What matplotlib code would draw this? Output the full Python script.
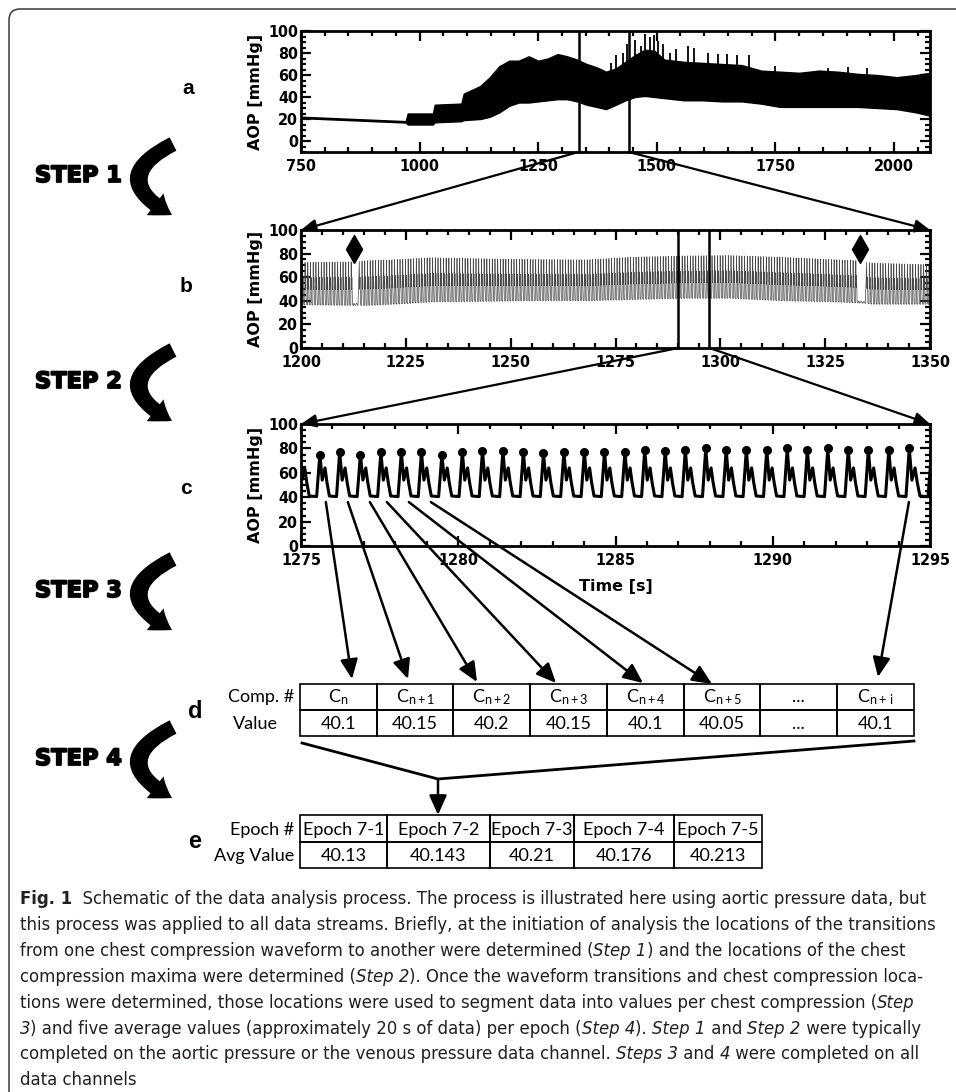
import numpy as np
import matplotlib
matplotlib.use("Agg")
import matplotlib.pyplot as plt
from matplotlib.patches import FancyArrowPatch, FancyBboxPatch, Rectangle, ConnectionPatch
from matplotlib.ticker import MultipleLocator
from matplotlib.font_manager import FontProperties, findfont
import matplotlib.patheffects as pe

plt.rcParams['mathtext.fontset'] = 'custom'
plt.rcParams['mathtext.rm'] = 'Lato'
plt.rcParams['mathtext.it'] = 'Lato:italic'
plt.rcParams['mathtext.bf'] = 'Lato:bold'

# ---------------------------------------------------------------- data
# panel a : whole record (envelope of the dense compression signal)
A_PRE_T = [750, 970]
A_PRE_V = [21, 17]
A_ENV_T = [970, 975, 1028, 1032, 1088, 1093, 1128, 1148, 1168, 1189, 1209, 1230,
           1250, 1270, 1291, 1311, 1332, 1352, 1373, 1393, 1414, 1434, 1454, 1475,
           1495, 1516, 1557, 1597, 1638, 1679, 1720, 1760, 1801, 1842, 1883, 1924,
           1965, 2006, 2047, 2076]
A_ENV_UP = [17, 25, 25, 33, 34, 43, 50, 58, 68, 73, 73, 77, 73, 75, 79, 77, 74, 70,
            67, 63, 66, 72, 78, 83, 82, 74, 72, 71, 70, 69, 64, 63, 62, 64, 63, 61,
            60, 58, 60, 62]
A_ENV_LO = [17, 15, 15, 17, 18, 19, 20, 22, 26, 32, 35, 35, 36, 37, 38, 38, 36, 33,
            31, 29, 33, 37, 40, 41, 40, 39, 37, 37, 36, 36, 34, 31, 31, 31, 31, 31,
            30, 29, 26, 23]
A_SPIKE_T = [1403, 1415, 1428, 1438, 1454, 1466, 1475, 1485, 1495, 1503, 1513, 1528,
             1540, 1566, 1578, 1607, 1630, 1648, 1669, 1694, 1750, 1862, 1903, 1944]
A_SPIKE_V = [71, 78, 80, 88, 92, 86, 97, 95, 96, 91, 88, 80, 84, 86, 85, 80, 79, 79,
             78, 78, 68, 66, 67, 66]
A_XTICKS = [750, 1000, 1250, 1500, 1750, 2000]
A_XLIM = [750, 2076]
A_WINDOW = [1335, 1441]

# panel b : 150 s window
B_ENV_T = [1200, 1212, 1216, 1221.6, 1231, 1245, 1256, 1268, 1279, 1291, 1302,
           1314, 1326, 1333, 1336, 1349, 1350]
B_ENV_UP = [72.5, 73, 74, 74.7, 76.5, 75.5, 75, 74.7, 77, 78, 78.4, 77, 75, 74, 72,
            70.7, 70.5]
B_ENV_LO = [36.5, 36, 36, 37, 39, 39.5, 40, 40, 41, 42, 42, 40, 39, 38, 37, 37, 37]
B_MARK_T = [1212.6, 1333.4]
B_MARK_V = [84, 84]
B_PERIOD = 0.647
B_XTICKS = [1200, 1225, 1250, 1275, 1300, 1325, 1350]
B_WINDOW = [1290, 1297.4]

# panel c : 20 s window, compression maxima
C_PEAK_T = [1274.95, 1275.60, 1276.23, 1276.89, 1277.54, 1278.19, 1278.83, 1279.48,
            1280.13, 1280.77, 1281.42, 1282.07, 1282.71, 1283.36, 1284.01, 1284.65,
            1285.30, 1285.93, 1286.58, 1287.22, 1287.87, 1288.52, 1289.16, 1289.81,
            1290.46, 1291.10, 1291.75, 1292.40, 1293.04, 1293.69, 1294.34, 1295.05]
C_PEAK_V = [76, 75, 77, 75, 77, 77, 77, 75, 77, 78, 78, 77, 76, 77, 77, 77, 77, 79,
            78, 79, 80, 79, 79, 79, 80, 79, 80, 79, 79, 79, 80, 78]
C_SHAPE_PHASE = [0.12, 0.26, 0.36, 0.48, 0.84]
C_SHAPE_V = [54, 64, 52, 41, 40.5]
C_XTICKS = [1275, 1280, 1285, 1290, 1295]
C_ARROW_T = [1275.79, 1276.49, 1277.19, 1277.73, 1278.43, 1279.13, 1294.33]
C_ARROW_V = 36
Y_TICKS = [0, 20, 40, 60, 80, 100]

# tables
D_HEAD = [r'$\mathrm{C}_{\mathrm{n}}$', r'$\mathrm{C}_{\mathrm{n+1}}$', r'$\mathrm{C}_{\mathrm{n+2}}$',
          r'$\mathrm{C}_{\mathrm{n+3}}$', r'$\mathrm{C}_{\mathrm{n+4}}$', r'$\mathrm{C}_{\mathrm{n+5}}$',
          '...', r'$\mathrm{C}_{\mathrm{n+\,i}}$']
D_VALS = ['40.1', '40.15', '40.2', '40.15', '40.1', '40.05', '...', '40.1']
E_HEAD = ['Epoch 7-1', 'Epoch 7-2', 'Epoch 7-3', 'Epoch 7-4', 'Epoch 7-5']
E_VALS = ['40.13', '40.143', '40.21', '40.176', '40.213']

STEPS = ['STEP 1', 'STEP 2', 'STEP 3', 'STEP 4']

CAPTION = [
    [("Fig. 1", 'normal', 'bold'), ("  Schematic of the data analysis process. The process is illustrated here using aortic pressure data, but", 'normal', 'normal')],
    [("this process was applied to all data streams. Briefly, at the initiation of analysis the locations of the transitions", 'normal', 'normal')],
    [("from one chest compression waveform to another were determined (", 'normal', 'normal'), ("Step 1", 'italic', 'normal'), (") and the locations of the chest", 'normal', 'normal')],
    [("compression maxima were determined (", 'normal', 'normal'), ("Step 2", 'italic', 'normal'), ("). Once the waveform transitions and chest compression loca-", 'normal', 'normal')],
    [("tions were determined, those locations were used to segment data into values per chest compression (", 'normal', 'normal'), ("Step", 'italic', 'normal')],
    [("3", 'italic', 'normal'), (") and five average values (approximately 20 s of data) per epoch (", 'normal', 'normal'), ("Step 4", 'italic', 'normal'), ("). ", 'normal', 'normal'), ("Step 1", 'italic', 'normal'), (" and ", 'normal', 'normal'), ("Step 2", 'italic', 'normal'), (" were typically", 'normal', 'normal')],
    [("completed on the aortic pressure or the venous pressure data channel. ", 'normal', 'normal'), ("Steps 3", 'italic', 'normal'), (" and ", 'normal', 'normal'), ("4", 'italic', 'normal'), (" were completed on all", 'normal', 'normal')],
    [("data channels", 'normal', 'normal')],
]

# ---------------------------------------------------------------- fonts
_cond = findfont(FontProperties(family='DejaVu Sans', stretch='condensed', weight='bold'))
HAS_COND = 'ondensed' in _cond
if HAS_COND:
    TICK_KW = dict(family='DejaVu Sans', stretch='condensed', weight='bold', size=11.5)
    CAP_FAM, CAP_STRETCH = ['DejaVu Sans'], 'condensed'
else:
    TICK_KW = dict(family='Liberation Sans', weight='bold', size=11.5)
    CAP_FAM, CAP_STRETCH = ['Liberation Sans'], 'normal'
TICK_FP = FontProperties(**TICK_KW)
LAB_FP = FontProperties(family='DejaVu Sans', weight='bold', size=11.5)

# ---------------------------------------------------------------- figure
W, H = 956, 1092
fig = plt.figure(figsize=(W / 100, H / 100), dpi=100)


def fbox(l, t, r, b):
    return [l / W, 1 - b / H, (r - l) / W, (b - t) / H]


ax_a = fig.add_axes(fbox(301, 31, 930, 152))
ax_b = fig.add_axes(fbox(301, 230, 930, 348))
ax_c = fig.add_axes(fbox(301, 424, 930, 546))
ov = fig.add_axes([0, 0, 1, 1], zorder=5)
ov.set_xlim(0, W)
ov.set_ylim(H, 0)
ov.axis('off')
ov.patch.set_alpha(0)


def style(ax, xticks, xminor, xlim, ylim):
    for s in ax.spines.values():
        s.set_linewidth(2)
    ax.set_xlim(*xlim)
    ax.set_ylim(*ylim)
    ax.set_xticks(xticks)
    ax.set_xticklabels([str(t) for t in xticks], fontproperties=TICK_FP)
    ax.set_yticks(Y_TICKS)
    ax.set_yticklabels([str(t) for t in Y_TICKS], fontproperties=TICK_FP)
    ax.xaxis.set_minor_locator(MultipleLocator(xminor))
    ax.yaxis.set_minor_locator(MultipleLocator(5))
    ax.tick_params(which='both', direction='in', top=True, right=True, width=1.6)
    ax.tick_params(axis='y', pad=2)
    ax.tick_params(axis='x', pad=5)
    ax.tick_params(which='major', length=7)
    ax.tick_params(which='minor', length=3.5)
    ax.set_ylabel('AOP [mmHg]', fontproperties=LAB_FP, labelpad=4)


# panel a
ax_a.plot(A_PRE_T, A_PRE_V, color='k', lw=2)
ax_a.fill_between(A_ENV_T, A_ENV_LO, A_ENV_UP, color='k', lw=1)
ax_a.vlines(A_SPIKE_T, 55, A_SPIKE_V, color='k', lw=1.3)
for x in A_WINDOW:
    ax_a.axvline(x, color='k', lw=1.8)
style(ax_a, A_XTICKS, 50, A_XLIM, (-10, 100))

# panel b
frac = [(v - C_SHAPE_V[-1]) / (77 - C_SHAPE_V[-1]) for v in C_SHAPE_V]
bt, bv = [], []
for p in np.arange(B_ENV_T[0] - B_PERIOD / 2, B_ENV_T[-1] + B_PERIOD, B_PERIOD):
    U = np.interp(p, B_ENV_T, B_ENV_UP)
    L = np.interp(p, B_ENV_T, B_ENV_LO)
    if any(-0.6 < p - g < 0.9 for g in B_MARK_T):
        bt += [p, p + 0.5 * B_PERIOD]
        bv += [L + 2, L]
        continue
    bt.append(p)
    bv.append(U)
    for ph, f in zip(C_SHAPE_PHASE, frac):
        bt.append(p + ph * B_PERIOD)
        bv.append(L + f * (U - L))
ax_b.plot(bt, bv, color='#4a4a4a', lw=0.5)
ax_b.plot(B_MARK_T, B_MARK_V, 'kd', ms=14)
for x in B_WINDOW:
    ax_b.axvline(x, color='k', lw=1.8)
style(ax_b, B_XTICKS, 5, (1200, 1350), (0, 100))

# panel c
ct, cv = [], []
for i in range(len(C_PEAK_T) - 1):
    t0, t1 = C_PEAK_T[i], C_PEAK_T[i + 1]
    ct.append(t0)
    cv.append(C_PEAK_V[i])
    for ph, v in zip(C_SHAPE_PHASE, C_SHAPE_V):
        ct.append(t0 + ph * (t1 - t0))
        cv.append(v)
ct.append(C_PEAK_T[-1])
cv.append(C_PEAK_V[-1])
ax_c.plot(ct, cv, color='k', lw=2.2, solid_joinstyle='round')
dots = [(t, v) for t, v in zip(C_PEAK_T, C_PEAK_V) if 1275 < t < 1295]
ax_c.plot([d[0] for d in dots], [d[1] for d in dots], 'ko', ms=5.5)
style(ax_c, C_XTICKS, 1, (1275, 1295), (0, 100))
ax_c.set_xlabel('Time [s]', fontproperties=LAB_FP, labelpad=8)

# ---------------------------------------------------------------- connectors


def conn(xyA, axA, xyB, axB, ms=13, lw=1.6, head='-|>,head_length=0.7,head_width=0.3'):
    cp = ConnectionPatch(xyA=xyA, coordsA=axA.transData, xyB=xyB, coordsB=axB.transData,
                         arrowstyle=head, mutation_scale=ms, lw=lw, color='k',
                         shrinkA=0, shrinkB=0, zorder=6)
    fig.add_artist(cp)


conn((A_WINDOW[0], -10), ax_a, (1200, 100), ax_b)
conn((A_WINDOW[1], -10), ax_a, (1350, 100), ax_b)
conn((B_WINDOW[0], 0), ax_b, (1275, 100), ax_c)
conn((B_WINDOW[1], 0), ax_b, (1295, 100), ax_c)

D_L, D_R, D_T, D_M, D_B = 300, 914, 684, 710, 736
E_COLS = [300, 387, 490, 574, 674, 762]
E_T, E_M, E_B = 815, 842, 868
ARROW_X = 438
d_w = (D_R - D_L) / len(D_HEAD)
tips = [(352, 679), (408, 679), (477, 682), (556, 683), (643, 683), (712, 684), (878, 677)]
for t, tip in zip(C_ARROW_T, tips):
    conn((t, C_ARROW_V), ax_c, tip, ov, ms=14, lw=1.8,
         head='-|>,head_length=0.85,head_width=0.38')

# lines below table d converging to the epoch arrow
ov.plot([D_L + 2, ARROW_X, D_R], [743, 779, 741], color='k', lw=2)
ov.add_patch(FancyArrowPatch((ARROW_X, 779), (ARROW_X, E_T),
                             arrowstyle='-|>,head_length=0.85,head_width=0.38',
                             mutation_scale=14, lw=1.8, color='k', shrinkA=0, shrinkB=0))

# ---------------------------------------------------------------- tables
TAB_FONT = dict(family='Lato', fontsize=13)
for i, (h, v) in enumerate(zip(D_HEAD, D_VALS)):
    x0 = D_L + i * d_w
    ov.add_patch(Rectangle((x0, D_T), d_w, D_M - D_T, fill=False, lw=1.2, ec='k'))
    ov.add_patch(Rectangle((x0, D_M), d_w, D_B - D_M, fill=False, lw=1.2, ec='k'))
    ov.text(x0 + d_w / 2, (D_T + D_M) / 2, h, ha='center', va='center', **TAB_FONT)
    ov.text(x0 + d_w / 2, (D_M + D_B) / 2 + 1, v, ha='center', va='center', **TAB_FONT)
ov.text(294, (D_T + D_M) / 2, 'Comp. #', ha='right', va='center', **TAB_FONT)
ov.text(255, (D_M + D_B) / 2 + 1, 'Value', ha='center', va='center', **TAB_FONT)

for i, (h, v) in enumerate(zip(E_HEAD, E_VALS)):
    x0, x1 = E_COLS[i], E_COLS[i + 1]
    ov.add_patch(Rectangle((x0, E_T), x1 - x0, E_M - E_T, fill=False, lw=1.2, ec='k'))
    ov.add_patch(Rectangle((x0, E_M), x1 - x0, E_B - E_M, fill=False, lw=1.2, ec='k'))
    ov.text((x0 + x1) / 2, (E_T + E_M) / 2 + 1, h, ha='center', va='center', **TAB_FONT)
    ov.text((x0 + x1) / 2, (E_M + E_B) / 2 + 1, v, ha='center', va='center', **TAB_FONT)
ov.text(294, (E_T + E_M) / 2 + 1, 'Epoch #', ha='right', va='center', **TAB_FONT)
ov.text(294, (E_M + E_B) / 2 + 1, 'Avg Value', ha='right', va='center', **TAB_FONT)

# ---------------------------------------------------------------- panel letters & steps
LET = dict(family='Liberation Sans', fontweight='bold', ha='center', va='center')
for lab, x, y, s in [('a', 188, 88, 15), ('b', 186, 286, 15), ('c', 186, 488, 15),
                     ('d', 195, 712, 17), ('e', 195, 842, 17)]:
    ov.text(x, y, lab, fontsize=s, **LET)

for lab, yc in zip(STEPS, [176, 382, 591, 759]):
    ov.text(35, yc, lab, family='DejaVu Sans', fontweight='bold', fontsize=16.2,
            ha='left', va='center',
            path_effects=[pe.withStroke(linewidth=1.3, foreground='k')])
    ov.add_patch(FancyArrowPatch((173, yc - 32), (172, yc + 39),
                                 connectionstyle='arc3,rad=0.95',
                                 arrowstyle='simple,head_length=0.8,head_width=1.1,tail_width=0.6',
                                 mutation_scale=18, color='k', lw=0, shrinkA=0, shrinkB=0))

# ---------------------------------------------------------------- frame
ov.add_patch(FancyBboxPatch((9, 9), 1100, 1200, boxstyle='round,pad=0,rounding_size=11',
                            fill=False, ec='#3a3a3a', lw=1.1))

# ---------------------------------------------------------------- caption
renderer = fig.canvas.get_renderer()


def seg_width(txt, style, weight, size):
    kw = dict(family=CAP_FAM, stretch=CAP_STRETCH, style=style, weight=weight, fontsize=size)
    t1 = fig.text(0, 0, 'a' + txt + 'a', **kw)
    t2 = fig.text(0, 0, 'aa', **kw)
    w = t1.get_window_extent(renderer).width - t2.get_window_extent(renderer).width
    t1.remove()
    t2.remove()
    return w


ref_w = sum(seg_width(s, st, wt, 10) for s, st, wt in CAPTION[1])
cap_size = 10 * 920 / ref_w
for li, line in enumerate(CAPTION):
    x = 20
    y = 904 + li * 25.9
    for s, st, wt in line:
        ov.text(x, y, s, family=CAP_FAM, stretch=CAP_STRETCH, style=st, weight=wt,
                fontsize=cap_size, ha='left', va='baseline', color='#231f20')
        x += seg_width(s, st, wt, cap_size)

fig.savefig('out.png', dpi=100)
